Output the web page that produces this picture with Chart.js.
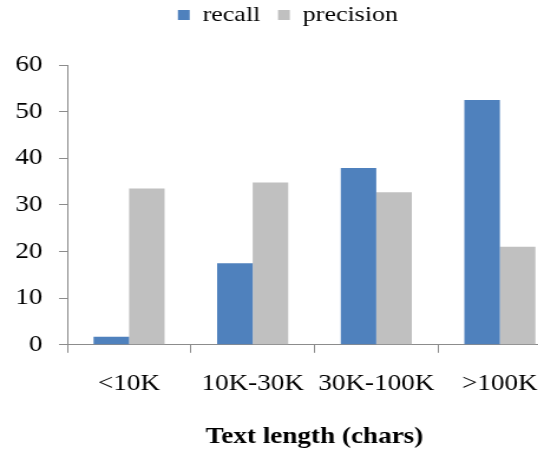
<!DOCTYPE html>
<html>
<head>
<meta charset="utf-8">
<script src="https://cdn.jsdelivr.net/npm/chart.js@4/dist/chart.umd.min.js"></script>
<style>
  html, body { margin: 0; padding: 0; background: #fff; overflow: hidden; font-family: "Liberation Serif", serif; }
  #wrap { width: 538px; height: 453px; overflow: hidden; position: relative; }
  #c { transform: scaleX(1.18); transform-origin: 0 0; display: block; }
</style>
</head>
<body>
<div id="wrap"><canvas id="c" width="476" height="453"></canvas></div>
<script>
const categories = ["<10K", "10K-30K", "30K-100K", ">100K"];
const recall = [1.7, 17.5, 37.9, 52.5];
const precision = [33.5, 34.8, 32.7, 21.0];
const yTicks = [0, 10, 20, 30, 40, 50, 60];
const xTitle = "Text length (chars)";

const FONT = "Liberation Serif";
const axisColor = "#8c8c8c";

function draw() {
  new Chart(document.getElementById("c"), {
    type: "bar",
    data: {
      labels: categories,
      datasets: [
        { label: "recall", data: recall, backgroundColor: "#4F81BD", borderWidth: 0 },
        { label: "precision", data: precision, backgroundColor: "#C0C0C0", borderWidth: 0 }
      ]
    },
    options: {
      responsive: false,
      animation: false,
      devicePixelRatio: 1,
      layout: { padding: { left: 12, right: 0, top: -11, bottom: 2 } },
      datasets: { bar: { barPercentage: 1.0, categoryPercentage: 0.575 } },
      plugins: {
        tooltip: { enabled: false },
        legend: {
          position: "top",
          weight: 3000,
          labels: {
            font: { family: FONT, size: 22 },
            color: "#000",
            boxWidth: 10,
            boxHeight: 10,
            padding: 15
          }
        },
        title: {
          display: true,
          position: "top",
          text: " ",
          font: { family: FONT, size: 2, lineHeight: 1 },
          padding: { top: 0, bottom: 27 }
        }
      },
      scales: {
        x: {
          grid: { display: true, drawOnChartArea: false, offset: true, color: axisColor, tickLength: 8, tickColor: axisColor },
          border: { display: true, color: axisColor, width: 1 },
          ticks: { font: { family: FONT, size: 23 }, color: "#000", padding: 17, maxRotation: 0, autoSkip: false },
          title: { display: true, text: xTitle, font: { family: FONT, size: 23, weight: "bold" }, color: "#000", padding: { top: 9, bottom: 0 } }
        },
        y: {
          min: yTicks[0],
          max: yTicks[yTicks.length - 1],
          afterBuildTicks: (axis) => { axis.ticks = yTicks.map(v => ({ value: v })); },
          afterFit: (axis) => { axis.width = 45; },
          grid: { display: true, drawOnChartArea: false, color: axisColor, tickLength: 7, tickColor: axisColor },
          border: { display: true, color: axisColor, width: 1 },
          ticks: { font: { family: FONT, size: 23 }, color: "#000", padding: 14 }
        }
      }
    }
  });
}

Promise.all([
  document.fonts.load('23px "Liberation Serif"'),
  document.fonts.load('bold 23px "Liberation Serif"')
]).then(draw, draw);
</script>
</body>
</html>
